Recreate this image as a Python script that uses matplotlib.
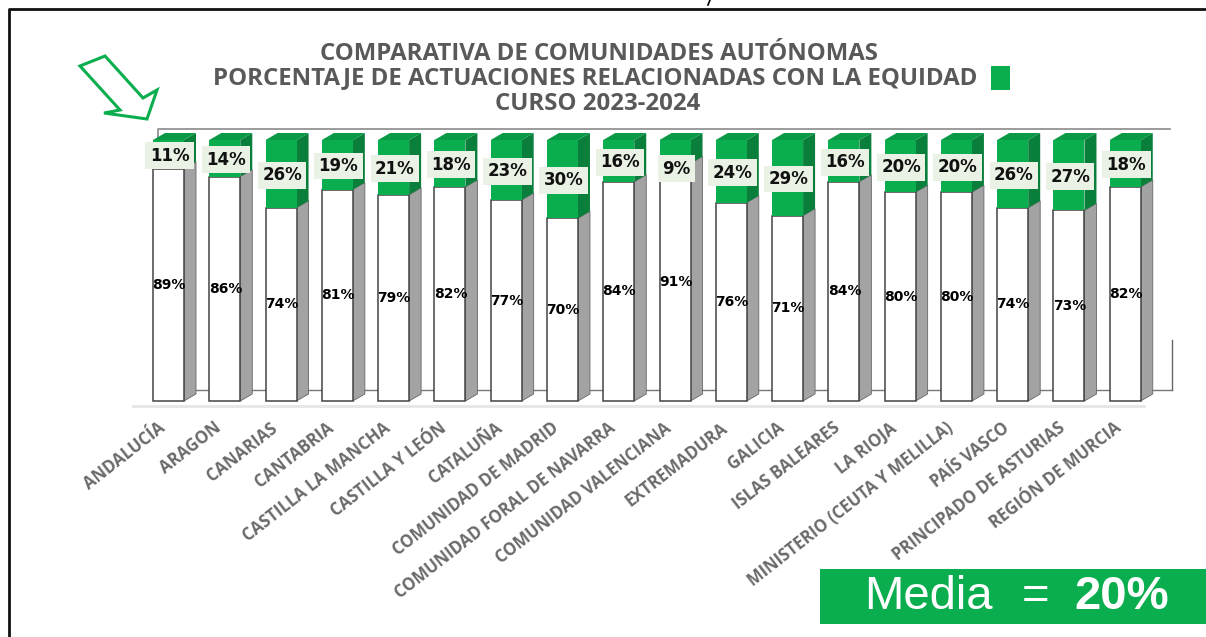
import matplotlib
matplotlib.use("Agg")
import matplotlib.pyplot as plt
from matplotlib.patches import Polygon, Rectangle

W, H = 1206, 637
categories = ["ANDALUCÍA", "ARAGON", "CANARIAS", "CANTABRIA", "CASTILLA LA MANCHA", "CASTILLA Y LEÓN",
              "CATALUÑA", "COMUNIDAD DE MADRID", "COMUNIDAD FORAL DE NAVARRA", "COMUNIDAD VALENCIANA",
              "EXTREMADURA", "GALICIA", "ISLAS BALEARES", "LA RIOJA", "MINISTERIO (CEUTA Y MELILLA)",
              "PAÍS VASCO", "PRINCIPADO DE ASTURIAS", "REGIÓN DE MURCIA"]
otras = [89, 86, 74, 81, 79, 82, 77, 70, 84, 91, 76, 71, 84, 80, 80, 74, 73, 82]
equidad = [11, 14, 26, 19, 21, 18, 23, 30, 16, 9, 24, 29, 16, 20, 20, 26, 27, 18]

plt.rcParams["font.family"] = ["Open Sans", "DejaVu Sans"]
fig = plt.figure(figsize=(W / 100, H / 100), dpi=100)

bg = fig.add_axes([0, 0, 1, 1])
bg.set_xlim(0, W); bg.set_ylim(H, 0); bg.axis("off")

GREEN = "#0BAE4F"; DGREEN = "#0A7F3C"; GREY = "#A3A3A3"; EDGE = "#444444"

# frame: open on the right, runs off the image
bg.plot([8.5, 8.5, W], [H, 8.5, 8.5], color="#111111", lw=2, zorder=1)
bg.plot([710, 708], [0, 5], color="black", lw=1.2, zorder=1)
# chart wall
bg.plot([158, 158, 1170], [140, 129, 129], color="#8a8a8a", lw=1.2, zorder=1)
bg.plot([1172, 1172], [340, 390], color="#666666", lw=1, zorder=1)
bg.plot([190, 1172], [390, 390], color="#777777", lw=1, zorder=1)
bg.plot([133, 1144], [405.5, 405.5], color="#E6E6E6", lw=2, zorder=1)

x0, step = 168.5, 56.28
y_base, y_top = 401, 140
ax = fig.add_axes([0, 1 - y_base / H, 1, (y_base - y_top) / H], facecolor="none")
ax.set_xlim(-x0 / step, (W - x0) / step)
ax.set_ylim(0, 100)
ax.axis("off")

barw = 31 / step
dx, dy = 12 / step, 7 / (y_base - y_top) * 100
xs = list(range(len(categories)))
ax.bar(xs, otras, width=barw, color="white", edgecolor=EDGE, linewidth=1.1, zorder=3, clip_on=False)
ax.bar(xs, equidad, bottom=otras, width=barw, color=GREEN, edgecolor="none", zorder=3, clip_on=False)
for i, (a, b) in enumerate(zip(otras, equidad)):
    l, r = i - barw / 2, i + barw / 2
    ax.add_patch(Polygon([(r, 0), (r + dx, dy), (r + dx, a + dy), (r, a)], fc=GREY, ec="#666666", lw=0.6,
                         zorder=2, clip_on=False))
    ax.add_patch(Polygon([(r, a), (r + dx, a + dy), (r + dx, 100 + dy), (r, 100)], fc=DGREEN, ec="none",
                         zorder=2, clip_on=False))
    ax.add_patch(Polygon([(l, 100), (l + dx, 100 + dy), (r + dx, 100 + dy), (r, 100)], fc="#0A9A46", ec="none",
                         zorder=2, clip_on=False))
    ax.text(i + 0.01, a / 2, f"{a}%", ha="center", va="center", fontsize=10, fontweight="bold",
            family="DejaVu Sans", color="black", zorder=5)
    lab_y = a + b / 2 if b >= 10 else a - 1.5
    ax.text(i + 0.02, lab_y - 0.5, f"{b}%", ha="center", va="center", fontsize=12, fontweight="bold",
            family="DejaVu Sans", color="#111111", zorder=6,
            bbox=dict(boxstyle="square,pad=0.26", fc="#E9F2E4", ec="none"))
    ax.text(i - 0.2, -6.8, categories[i], rotation=38, rotation_mode="anchor", ha="right", va="top",
            fontsize=12, fontweight="bold", color="#6A6A6A", zorder=5)

title_lines = ["COMPARATIVA DE COMUNIDADES AUTÓNOMAS",
               "PORCENTAJE DE ACTUACIONES RELACIONADAS CON LA EQUIDAD",
               "CURSO 2023-2024"]
for (line, cx, cy) in zip(title_lines, [599, 595, 598], [53.5, 78.5, 103.5]):
    bg.text(cx, cy, line, ha="center", va="center", fontsize=17.3, fontweight="bold", color="#595959")
bg.add_patch(Rectangle((991, 66), 19, 24, fc=GREEN, ec="none"))

arrow_x = [105, 80, 120, 104, 147, 157, 143]
arrow_y = [56, 66, 110, 113, 119, 90, 98]
bg.add_patch(Polygon(list(zip(arrow_x, arrow_y)), closed=True, fc="white", ec="#0BAE4F", lw=2.2, zorder=4))

bg.add_patch(Rectangle((820, 569), 386, 55, fc=GREEN, ec="none", zorder=4))
bg.text(864, 597, "Media", ha="left", va="center", fontsize=34, color="white", family="Liberation Sans", zorder=5)
bg.text(1022, 597, "=", ha="left", va="center", fontsize=34, color="white", family="Liberation Sans", zorder=5)
bg.text(1074, 597, "20%", ha="left", va="center", fontsize=34, color="white", fontweight="bold",
        family="Liberation Sans", zorder=5)

fig.savefig("out.png", dpi=100)
